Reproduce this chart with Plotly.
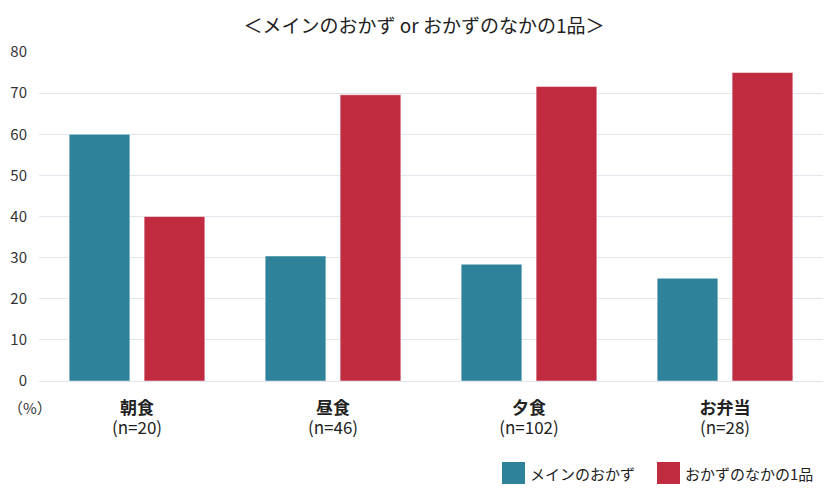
import plotly.graph_objects as go

# データ
categories = ["朝食", "昼食", "夕食", "お弁当"]
sample_sizes = [20, 46, 102, 28]
series_names = ["メインのおかず", "おかずのなかの1品"]
main_dish = [60.0, 30.4, 28.4, 25.0]
one_item = [40.0, 69.6, 71.6, 75.0]
y_ticks = [0, 10, 20, 30, 40, 50, 60, 70, 80]

COLORS = {"blue": "#2E8299", "red": "#C02B40", "grid": "#E4E4EC", "text": "#222222"}
FONT = "Noto Sans CJK JP, Noto Sans, sans-serif"

# base font sets the line spacing, spans make the glyphs a bit bigger
tick_text = [
    f"<span style='font-size:17px'><b>{c}</b></span><br>"
    f"<span style='font-size:17px'>(n={n})</span>"
    for c, n in zip(categories, sample_sizes)
]

fig = go.Figure()
fig.add_trace(go.Bar(
    x=categories, y=main_dish, name=series_names[0],
    marker=dict(color=COLORS["blue"], line=dict(color="rgba(255,255,255,0.5)", width=1)),
))
fig.add_trace(go.Bar(
    x=categories, y=one_item, name=series_names[1],
    marker=dict(color=COLORS["red"], line=dict(color="rgba(255,255,255,0.5)", width=1)),
))

# the page body adds an 8px offset, so the figure is 832x487
fig.update_layout(
    width=832, height=487,
    margin=dict(l=31, r=17, t=44, b=114, autoexpand=False),
    paper_bgcolor="white", plot_bgcolor="white",
    barmode="group", bargap=0.235, bargroupgap=0.19,
    showlegend=False,
    font=dict(family=FONT, color=COLORS["text"]),
    title=dict(text="＜メインのおかず or おかずのなかの1品＞", x=0.5, xanchor="center",
               y=0.963, yanchor="middle", font=dict(size=19, color=COLORS["text"])),
    xaxis=dict(tickmode="array", tickvals=categories, ticktext=tick_text,
               tickfont=dict(size=15.5, color=COLORS["text"]), showgrid=False,
               showline=True, linecolor=COLORS["grid"], linewidth=1, ticks="",
               automargin=False, ticklabelstandoff=13),
    yaxis=dict(range=[0, 80], tickvals=y_ticks, showgrid=True, gridcolor=COLORS["grid"],
               gridwidth=1, zeroline=False, tickfont=dict(size=15, color="#333333"),
               ticklabelstandoff=11, automargin=False),
)

# (%) ラベル
fig.add_annotation(text="（%）", xref="paper", yref="paper", x=-0.0115, y=-0.082,
                   xanchor="center", yanchor="middle",
                   showarrow=False, font=dict(size=15, color="#333333"))

# 凡例（手描き）
legend_items = [(series_names[0], COLORS["blue"], 502), (series_names[1], COLORS["red"], 657)]
for name, color, px in legend_items:
    x0 = (px - 39) / 784
    x1 = (px + 23 - 39) / 784
    fig.add_shape(type="rect", xref="paper", yref="paper", x0=x0, x1=x1,
                  y0=(381 - 484) / 329, y1=(381 - 462) / 329,
                  fillcolor=color, line=dict(width=0))
    fig.add_annotation(text=name, xref="paper", yref="paper", x=x1 + 3 / 784,
                       y=(381 - 473) / 329, xanchor="left", yanchor="middle",
                       showarrow=False, font=dict(size=15, color=COLORS["text"]))

fig.write_html("out.html")
